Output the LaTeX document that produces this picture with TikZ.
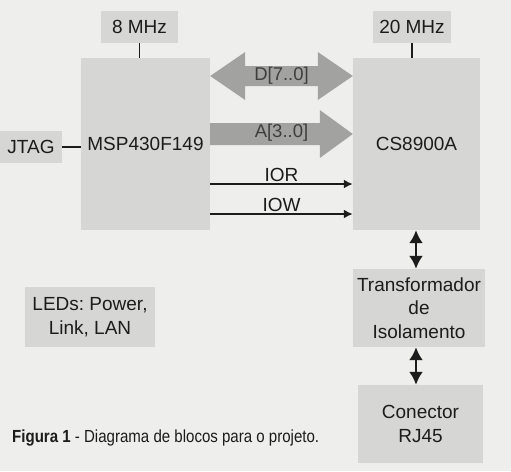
\documentclass[tikz,border=0pt]{standalone}
\usepackage{fontspec}
\setmainfont{Liberation Sans}
\usetikzlibrary{arrows.meta,calc}
\frenchspacing
\definecolor{bg}{HTML}{EEEEEC}
\definecolor{boxg}{HTML}{D6D6D4}
\definecolor{arrg}{HTML}{A2A2A0}
\definecolor{ink}{HTML}{1C1C1C}
\begin{document}
\begin{tikzpicture}[x=1pt,y=-1pt,
  blk/.style={fill=boxg,draw=none,inner sep=0pt,align=center,text=ink,font=\fontsize{19}{23.5}\selectfont},
  tick/.style={draw=ink,line width=1.2pt},
  sig/.style={draw=ink,line width=1.8pt,-{Latex[length=9pt,width=9pt]}},
  bidir/.style={draw=ink,line width=2.4pt,{Latex[length=13pt,width=14pt]}-{Latex[length=13pt,width=14pt]}},
  broad/.style={fill=arrg,draw=none},
  blab/.style={text=ink!85,font=\fontsize{18.5}{20}\selectfont,inner sep=0pt}]
\fill[bg] (0,0) rectangle (511,471);
\useasboundingbox (0,0) rectangle (511,471);
% blocks
\node[blk,minimum width=129pt,minimum height=172pt] (msp) at (145.5,144) {MSP430F149};
\node[blk,minimum width=127pt,minimum height=172pt] (cs) at (416.5,144) {CS8900A};
\node[blk,minimum width=77pt,minimum height=32pt] (f8) at (139.5,27) {8 MHz};
\node[blk,minimum width=78pt,minimum height=32pt] (f20) at (412,27) {20 MHz};
\node[blk,minimum width=62pt,minimum height=32pt] (jtag) at (31,147) {JTAG};
\node[blk,minimum width=132pt,minimum height=78pt] (trafo) at (419,308) {Transformador\\de\\Isolamento};
\node[blk,minimum width=125pt,minimum height=78pt] (rj) at (420.5,424) {Conector\\RJ45};
\node[blk,minimum width=130pt,minimum height=60pt] (leds) at (90,317) {LEDs: Power,\\Link, LAN};
% ticks
\draw[tick] (f8.south) -- (f8.south |- msp.north);
\draw[tick] (f20.south) -- (f20.south |- cs.north);
\draw[tick] (jtag.east) -- (jtag.east -| msp.west);
% broad arrows
\coordinate (dl) at (msp.east |- 0,76);
\coordinate (dr) at (cs.west |- 0,76);
\fill[broad] (dl) -- ($(dl)+(35,-24)$) -- ($(dl)+(35,-10)$) -- ($(dr)+(-35,-10)$) -- ($(dr)+(-35,-24)$) -- (dr)
  -- ($(dr)+(-35,24)$) -- ($(dr)+(-35,10)$) -- ($(dl)+(35,10)$) -- ($(dl)+(35,24)$) -- cycle;
\node[blab] (dlab) at ($(dl)!0.5!(dr)$) {D[7..0]};
\coordinate (al) at (msp.east |- 0,134);
\coordinate (ar) at (cs.west |- 0,134);
\fill[broad] (al) ++(0,-11) -- ($(ar)+(-33,-11)$) -- ($(ar)+(-33,-24)$) -- (ar) -- ($(ar)+(-33,24)$) -- ($(ar)+(-33,11)$) -- ($(al)+(0,11)$) -- cycle;
\node[blab] (alab) at ($(al)!0.5!(ar)+(0,-1)$) {A[3..0]};
% signals
\coordinate (iorA) at (msp.east |- 0,184);
\coordinate (iowA) at (msp.east |- 0,214);
\draw[sig] (iorA) -- (iorA -| cs.west) node[midway,above=1pt,blk,fill=none] (ior) {IOR};
\draw[sig] (iowA) -- (iowA -| cs.west) node[midway,above=1pt,blk,fill=none] (iow) {IOW};
% vertical bidirectional
\draw[bidir] (cs.south -| 416,0) -- (trafo.north -| 416,0);
\draw[bidir] (trafo.south -| 416,0) -- (rj.north -| 416,0);
% caption
\node[anchor=west,inner sep=0pt,text=ink] (cap) at (12,438) {\scalebox{0.86}[1]{\fontsize{17.5}{20}\selectfont\textbf{Figura 1} - Diagrama de blocos para o projeto.}};
\end{tikzpicture}
\end{document}
